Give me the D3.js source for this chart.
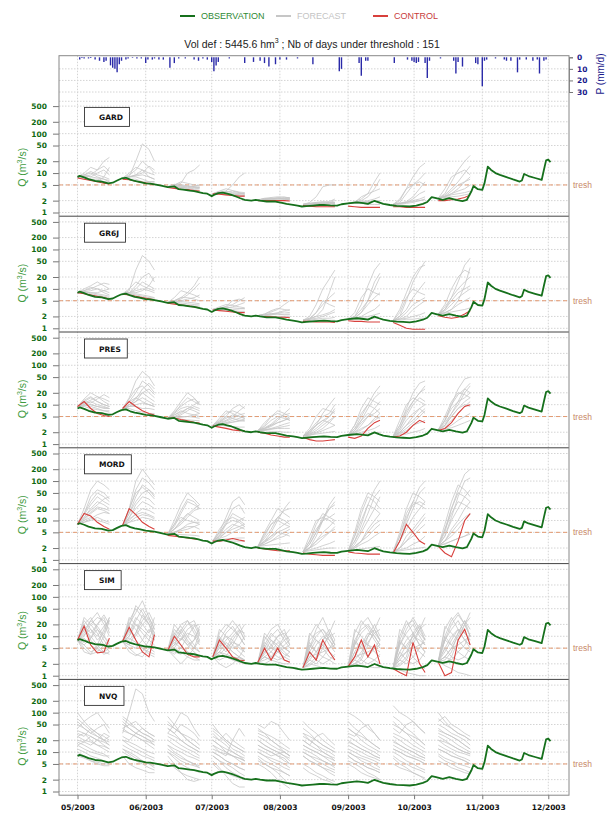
<!DOCTYPE html>
<html>
<head>
<meta charset="utf-8">
<script src="https://cdnjs.cloudflare.com/ajax/libs/d3/7.8.5/d3.min.js"></script>
<style>
  body { margin: 0; background: #fff; }
  svg { display: block; font-family: "Liberation Sans", Arial, sans-serif; }
</style>
</head>
<body>
<svg id="chart"></svg>
<script>
// ---- data ----
const stations = ['GARD', 'GR6J', 'PRES', 'MORD', 'SIM', 'NVQ'];
const qTicks = [1, 2, 5, 10, 20, 50, 100, 200, 500];
const pTicks = [0, 10, 20, 30];
const monthTicks = ['2003-05-01', '2003-06-01', '2003-07-01', '2003-08-01', '2003-09-01', '2003-10-01', '2003-11-01', '2003-12-01'];
const threshold = 5;

// observed discharge (days after 1 May 2003, m3/s)
const obsDays = [0,1,3,5,8,11,14,16,18,20,22,24,26,28,31,33,35,38,41,44,46,48,51,53,55,57,59,61,62,64,66,68,70,72,74,76,79,81,83,86,88,90,93,95,98,100,102,104,107,110,112,115,118,120,123,127,130,132,135,137,139,142,145,148,151,154,157,159,161,163,166,169,172,175,177,179,180,182,184,185,186.5,188,190,192,195,198,201,202,203,205,208,211,212,213,214,215];
const obsQ = [8.0,8.5,7.8,7.0,6.3,6.1,5.5,5.7,6.5,7.3,7.6,6.8,6.3,6.0,5.5,5.4,5.2,4.8,4.4,4.6,3.9,3.8,3.6,3.5,3.3,3.1,3.0,2.6,2.8,3.1,3.2,3.0,2.8,2.55,2.3,2.1,2.0,2.1,2.0,1.9,1.9,1.9,1.75,1.65,1.57,1.5,1.42,1.45,1.5,1.55,1.57,1.52,1.5,1.62,1.7,1.8,1.72,1.66,1.98,1.8,1.65,1.55,1.48,1.45,1.42,1.5,1.65,1.85,2.45,2.3,2.1,2.3,2.1,1.95,2.1,3.4,4.7,3.9,3.75,5.5,14.5,12,10,9,7.9,6.9,6.1,6.5,9.5,8.4,7.5,6.7,12,21,22,19];

// daily rainfall (mm/d)
const rainDays = [1,2,3,5,6,8,10,12,13,15,16,17,18,19,20,22,23,25,27,29,31,32,34,35,37,39,42,44,46,49,53,55,57,59,61,62,63,64,69,76,80,83,85,87,90,92,95,100,107,119,120,128,129,131,132,144,150,152,153,154,155,158,159,160,165,171,172,173,175,181,182,184,185,186,190,194,195,197,200,201,204,207,209,210,212,213];
const rainMm   = [2,0.5,1,1,0.5,2,3,4,3,7,9,10,13,6,3,2,1,0.5,1,1,5,2,2,1,2,2,9,5,1,1,2,3,1,2,4,12,7,4,1,5,4,3,5,8,6,2,2,1,6,12,10,5,16,3,3,5,2,3,4,5,4,5,18,3,1,3,14,4,8,5,6,25,3,2,1,2,3,3,13,2,2,3,2,14,3,2];

// forecast issue days and lead days of the stored points
const issueDays = [0, 20.5, 41, 61.5, 82, 102.5, 123, 143.5, 164];
const leadDays = [0, 3, 6, 9, 12, 14.5];

// ensemble members per issue (members separated by "|")
const fcGARD = [
  '8 9 8 10 12 9|8 8 7 7 6 6|8 10 14 12 20 25|8 9 11 9 8 14|8 8 9 12 15 11|8 7 7 6 8 7|8 9 10 8 7 6|8 8.5 8 7.5 7 6.5',
  '7.5 8 9 12 10 9|7.5 8 20 55 40 20|7.5 8 8 7 6 6|7.5 9 12 20 14 10|7.5 8 9 10 15 12|7.5 7 7 6 6 6|7.5 10 14 12 8 7|7.5 8 8.5 9 8 7',
  '4.5 4.6 4.4 4.2 4.0 4.1|4.5 5 5.5 10 12 16|4.5 4.8 5 4.8 4.5 4.4|4.5 4.5 4.3 4.2 4.6 5|4.5 5 6 5.5 5 4.7|4.5 4.4 4.2 4 3.8 3.7|4.5 5.2 4.8 4.6 4.3 4.2|4.5 4.7 4.6 4.5 4.4 4.3',
  '3 3.2 3 2.9 2.8 2.7|3 3.4 3.5 5 8 10|3 3.1 3.3 3.5 3.2 3|3 3 2.9 2.8 2.9 3.1|3 3.5 4 3.6 3.3 3.2|3 2.9 2.8 2.7 2.6 2.6|3 3.2 3.4 3.2 3.1 2.9|3 3.1 3.1 3 3 2.9',
  '2.1 2.2 2.2 2.3 2.2 2.2|2.1 2.3 2.4 2.5 2.4 2.4|2.1 2.1 2.1 2.2 2.3 2.3|2.1 2.2 2.3 2.2 2.2 2.1|2.1 2.2 2.2 2.4 2.5 2.3|2.1 2.1 2.0 2.0 2.1 2.1|2.1 2.2 2.3 2.3 2.2 2.2|2.1 2.15 2.2 2.2 2.25 2.3',
  '1.6 1.6 1.7 1.7 1.8 1.8|1.6 1.8 2.5 4.5 5 5|1.6 1.7 1.7 1.8 1.9 2.2|1.6 1.6 1.6 1.7 1.7 1.7|1.6 1.7 1.8 1.7 1.8 2|1.6 1.6 1.5 1.5 1.5 1.6|1.6 1.7 1.8 1.9 1.8 1.8|1.6 1.65 1.7 1.75 1.7 1.7',
  '1.7 1.8 1.8 1.9 1.9 2|1.7 1.8 2.5 3 6 10|1.7 1.8 2 2.5 4 7|1.7 1.7 1.8 1.8 1.9 1.9|1.7 1.9 2.2 3 3.5 4|1.7 1.7 1.7 1.6 1.6 1.6|1.7 1.8 1.9 2 2.2 2.5|1.7 1.75 1.8 1.85 1.9 1.9',
  '1.6 1.7 1.8 2 2.2 2.5|1.6 2 4 8 14 18|1.6 1.8 3 5 7 10|1.6 1.7 1.9 2.5 4 6|1.6 1.7 1.8 1.9 2 2.1|1.6 2.2 4 5 6 5|1.6 1.6 1.7 1.8 2 2.2|1.6 1.7 1.8 2.2 3 3.5',
  '2.3 2.5 3 4 6 8|2.3 3 6 12 20 28|2.3 2.8 4 6 10 15|2.3 2.5 2.8 3 3.2 3.5|2.3 4 8 10 12 9|2.3 2.6 3.5 5 6 7|2.3 2.4 2.5 2.6 2.8 3|2.3 2.6 3 3.5 4 5'
];
const ctrlGARD = ['7.5 7 6.5 6 5.5 5.3', '7 6.8 6.2 5.8 5.4 5.2', '4.3 4.1 3.9 3.8 3.6 3.5', '3 2.9 2.8 2.7 2.6 2.6', '2.0 2.0 2.0 2.0 2.0 1.95', '1.5 1.45 1.4 1.4 1.4 1.4', '1.45 1.4 1.35 1.35 1.35 1.35', '1.4 1.4 1.35 1.35 1.35 1.35', '2.0 2.0 2.1 2.2 2.4 2.8'];

const fcGR6J = [
  '8 9 10 12 14 13|8 8 7.5 7 6.5 6|8 8.5 9 10 9 8|8 9 11 10 8 7|8 8 8 8 9 10|8 7.5 7 6.5 6 5.8|8 10 12 15 12 10|8 8.5 8 7.5 7 6.5',
  '7.5 8 10 15 12 10|7.5 9 30 70 50 30|7.5 8 9 10 9 8|7.5 8 12 20 25 15|7.5 7.5 7 6.5 6 5.8|7.5 10 15 12 10 9|7.5 8 8 9 12 20|7.5 7.5 7.5 7 6.5 6',
  '4.5 5 6 8 12 20|4.5 4.5 4.4 4.2 4 3.9|4.5 5 6 6 5.5 5|4.5 6 9 8 7 6|4.5 4.7 5 5.5 6 7|4.5 4.3 4.1 3.9 3.7 3.6|4.5 4.6 4.8 4.6 4.4 4.2|4.5 5 5.5 7 10 14',
  '3 3.2 3.5 4 5 6|3 3 2.9 2.8 2.7 2.7|3 3.3 3.4 3.3 3.2 3.1|3 3.1 3.2 3.5 4 4.5|3 2.9 2.8 2.7 2.6 2.6|3 3.5 4 3.8 3.5 3.3|3 3.1 3 3 3.1 3.2|3 3.2 3.6 5 5.5 5',
  '2.1 2.2 2.3 2.5 2.8 3|2.1 2.1 2 2 2 2|2.1 2.3 2.6 3 4 5|2.1 2.2 2.2 2.3 2.3 2.3|2.1 2.1 2.2 2.4 2.6 2.5|2.1 2 2 1.9 1.9 1.9|2.1 2.2 2.4 2.3 2.2 2.2|2.1 2.3 2.8 3.2 3 2.8',
  '1.6 1.7 2 3 8 20|1.6 1.6 1.6 1.6 1.6 1.6|1.6 1.8 2.5 4 6 8|1.6 1.7 1.8 2 2.3 2.6|1.6 2 4 10 18 30|1.6 1.6 1.7 1.8 1.8 1.9|1.6 1.8 2 2.2 2.5 3|1.6 1.7 2.5 5 4 3.5',
  '1.7 1.8 2.5 5 10 20|1.7 1.7 1.8 1.8 1.8 1.9|1.7 2 4 12 30 45|1.7 1.9 2.5 4 6 8|1.7 1.8 2 2.5 3 4|1.7 2.5 6 10 8 7|1.7 1.8 1.9 2 2.2 2.4|1.7 2 3 5 15 25',
  '1.6 2 5 15 30 50|1.6 1.7 1.8 2 2.2 2.5|1.6 2 3 6 10 15|1.6 1.8 2.5 4 5 6|1.6 3 8 20 35 40|1.6 1.7 2 3 4 5|1.6 1.6 1.7 1.7 1.8 1.8|1.6 2.5 6 10 8 7',
  '2.3 3 6 15 40 60|2.3 2.5 3 4 5 6|2.3 4 10 20 30 25|2.3 2.8 4 6 8 10|2.3 2.4 2.6 2.8 3 3.3|2.3 3.5 6 10 15 20|2.3 2.5 3 5 12 35|2.3 3 5 8 10 12'
];
const ctrlGR6J = ['8 7.5 7 6.5 6 5.5', '7.3 7 6.5 6 5.6 5.3', '4.3 4.1 3.9 3.7 3.5 3.3', '2.9 2.8 2.7 2.6 2.5 2.5', '2 2 1.95 1.9 1.9 1.85', '1.5 1.5 1.45 1.45 1.45 1.4', '1.55 1.5 1.5 1.45 1.45 1.45', '1.4 1.2 1 0.95 0.95 0.95', '2.1 1.9 1.8 1.9 2.3 2.8'];

const fcPRES = [
  '9 12 15 12 10 9|9 10 9 8 7 6.5|9 14 20 16 12 10|9 11 10 9 8 8|9 9 8 7.5 7 7|9 12 11 14 18 15|9 10 12 10 9 8|9 8 7 6.5 6 6|9 11 13 16 14 12|9 9.5 10 9 8.5 8|9 13 16 12 10 9',
  '8 12 20 40 30 20|8 15 40 70 50 30|8 10 12 15 12 10|8 9 9 8 8 7.5|8 12 15 20 25 18|8 8 7 6.5 6 6|8 10 15 12 10 9|8 9 12 20 15 12|8 10 14 25 35 25|8 9 10 11 10 9|8 14 25 30 20 15',
  '4.5 6 10 15 12 10|4.5 5 6 8 10 12|4.5 5 5 5 4.8 4.5|4.5 7 12 20 15 10|4.5 4.5 4.3 4.1 4 3.9|4.5 5.5 7 6 5.5 5|4.5 6 8 9 8 7|4.5 4.8 5.5 7 9 8|4.5 5.5 6.5 8 7 6|4.5 4.6 4.8 5 5.5 6|4.5 6.5 9 12 14 11',
  '3 3.5 5 8 10 8|3 3.2 3.5 4 4.5 5|3 4 6 7 6 5|3 3 2.9 2.8 2.7 2.7|3 3.5 4 5 7 9|3 3.8 5 4.5 4 3.8|3 3.1 3.3 3.6 4 4.3|3 4.5 7 6 5 4.5|3 3.3 3.8 4.5 5.5 6|3 3.6 4.5 5.5 5 4.5|3 3.2 3.4 3.6 3.8 4',
  '2.2 2.5 3 4 6 8|2.2 2.3 2.4 2.6 2.8 3|2.2 2.8 4 5 4.5 4|2.2 2.2 2.1 2.1 2 2|2.2 2.5 3 3.5 4 5|2.2 3 5 6 5 4|2.2 2.3 2.4 2.5 2.5 2.5|2.2 2.4 2.8 3.5 4 4.5|2.2 2.6 3.2 4.5 5.5 6|2.2 2.3 2.5 2.8 3.2 3.5|2.2 3.5 5 7 6 5',
  '1.6 2 3 6 10 15|1.6 1.8 2.2 3 4 5|1.6 2.5 5 8 7 6|1.6 1.7 1.8 1.9 2 2.1|1.6 2 3 4 5 7|1.6 1.6 1.5 1.5 1.5 1.5|1.6 2.2 3 4 3.5 3|1.6 1.8 2 2.5 3.5 5|1.6 1.9 2.5 3.5 5 8|1.6 2.2 3.5 5 6 10|1.6 1.7 1.9 2.2 2.6 3',
  '1.7 2.5 5 10 20 30|1.7 2 3 5 6 8|1.7 3 8 15 12 10|1.7 1.8 2 2.2 2.5 3|1.7 2.2 3.5 5 8 12|1.7 1.7 1.8 1.8 1.9 2|1.7 2.5 4 6 5 4.5|1.7 2 2.5 3 4 5|1.7 2.2 4 8 15 20|1.7 1.9 2.3 3 4.5 6|1.7 3 6 10 8 6',
  '1.6 3 8 20 35 40|1.6 2 3 5 8 10|1.6 2.5 5 10 15 12|1.6 1.8 2.2 3 3.5 4|1.6 4 10 15 12 10|1.6 1.7 1.8 2 2.2 2.5|1.6 2 3 4 6 8|1.6 2.2 4 6 8 6|1.6 2.5 6 12 20 25|1.6 1.9 2.5 3.5 5 7|1.6 3 7 12 20 30',
  '2.3 4 10 25 45 50|2.3 3 5 8 12 15|2.3 5 12 20 18 15|2.3 2.5 3 4 5 6|2.3 3.5 6 10 20 30|2.3 2.4 2.6 3 3.5 4|2.3 3 5 8 10 9|2.3 4 8 12 15 20|2.3 3 6 12 25 35|2.3 2.8 4 6 9 12|2.3 4 10 18 25 20'
];
const ctrlPRES = ['9 12 8 6 5.3 5', '8 12 9 7 6 5.5', '4.5 4.6 4.2 3.9 3.6 3.4', '2.9 2.7 2.5 2.3 2.2 2.2', '2 1.9 1.7 1.6 1.5 1.5', '1.5 1.3 1.2 1.2 1.25 1.3', '1.5 1.4 1.6 2.5 3.5 4', '1.5 1.6 2 3 4 3.5', '2.2 2.5 3.5 6 9 10'];

const fcMORD = [
  '8 15 30 50 40 30|8 20 60 100 80 60|8 10 15 20 18 15|8 12 20 30 25 20|8 9 10 12 10 9|8 15 40 60 50 35|8 10 12 10 9 8|8 12 18 25 35 40|8 11 16 22 20 18|8 14 25 40 30 25|8 9 11 14 16 15',
  '7.5 15 40 80 60 40|7.5 20 100 200 120 80|7.5 10 15 20 18 15|7.5 12 25 40 35 25|7.5 9 10 12 11 10|7.5 15 30 50 60 45|7.5 11 14 16 14 12|7.5 20 50 70 50 35|7.5 12 20 30 25 20|7.5 18 60 120 90 60|7.5 9 12 14 13 11',
  '4.5 7 15 30 25 20|4.5 10 25 50 35 25|4.5 5 6 7 7 6|4.5 6 10 15 12 10|4.5 5 5.5 6 7 8|4.5 8 12 10 9 8|4.5 4.5 4.4 4.3 4.2 4|4.5 6 8 12 18 20|4.5 6 9 14 20 25|4.5 8 18 35 30 20|4.5 5 6 8 9 9',
  '3 4 8 15 12 10|3 5 12 30 40 25|3 3.5 4 5 6 7|3 4 6 8 7 6|3 3.2 3.4 3.5 3.6 3.6|3 6 10 12 10 8|3 3.5 5 7 10 12|3 3 3 3 3 3|3 4.5 9 20 25 15|3 3.8 5 6 7 8|3 5 8 10 9 7',
  '2.2 3 5 10 20 30|2.2 2.5 3 4 5 6|2.2 4 8 12 10 8|2.2 2.3 2.4 2.5 2.6 2.7|2.2 3 4 6 8 10|2.2 2.8 4 5 4.5 4|2.2 5 10 20 15 12|2.2 2.5 3 3.5 4 5|2.2 3.5 6 12 18 20|2.2 2.8 3.5 5 6 7|2.2 4.5 8 10 8 7',
  '1.6 2 4 10 25 40|1.6 2 3 5 7 10|1.6 3 8 15 12 10|1.6 1.8 2 2.3 2.6 3|1.6 2.5 5 10 20 30|1.6 1.7 1.8 1.9 2 2|1.6 4 10 12 10 8|1.6 2 3 4 5 6|1.6 2.5 5 12 20 25|1.6 3 6 10 12 15|1.6 2 2.5 3.5 5 7',
  '1.7 3 8 25 60 100|1.7 2 3 6 10 15|1.7 4 15 40 30 20|1.7 2 2.5 3 4 5|1.7 2.5 5 10 20 40|1.7 1.8 1.9 2 2.1 2.2|1.7 5 20 50 40 30|1.7 2.2 3 5 8 10|1.7 3 6 15 40 60|1.7 4 10 25 20 15|1.7 2.2 3 4 6 8',
  '1.6 3 10 30 70 100|1.6 2 3 5 8 12|1.6 5 20 50 40 30|1.6 1.8 2 2.5 3 4|1.6 3 6 12 20 30|1.6 1.7 1.8 1.9 2 2.1|1.6 4 15 30 25 20|1.6 2 4 6 10 15|1.6 3 8 20 50 70|1.6 4 12 25 30 25|1.6 2 3 4 6 8',
  '2.3 5 20 60 150 200|2.3 3 5 8 12 15|2.3 8 30 80 60 40|2.3 2.5 3 3.5 4 5|2.3 4 10 20 40 60|2.3 2.6 3 3.5 4 4.5|2.3 6 15 30 25 20|2.3 3 6 10 20 30|2.3 4 12 40 100 120|2.3 6 20 50 40 30|2.3 3 4 6 10 15'
];
const ctrlMORD = ['8 15 13 9 7 6', '7.5 20 14 9 7 6', '4.2 4 3.8 3.6 3.4 3.3', '3 3 3.2 3.5 3.2 3', '2 1.9 1.8 1.7 1.7 1.7', '1.5 1.4 1.35 1.3 1.3 1.3', '1.6 1.5 1.45 1.4 1.4 1.4', '1.5 3 8 5 3 2.5', '2.2 1.5 1.2 3 10 15'];

const fcSIM = [
  '8 20 30 15 8 5|8 12 25 40 20 10|8 6 4 5 10 25|8 15 10 6 4 3.5|8 10 20 30 25 15|8 5 3.5 4 6 8|8 18 12 20 35 20|8 7 9 15 10 6|8 25 15 8 12 30|8 9 6 4.5 4 5|8 30 20 12 6 4|8 4 3.5 6 15 30|8 14 25 18 10 7|8 6 9 20 30 12|8 20 8 5 3.5 4|8 11 15 10 18 25',
  '7.5 20 40 80 30 15|7.5 10 20 15 10 8|7.5 5 3.5 3 5 12|7.5 25 50 30 20 10|7.5 15 8 5 4 3.5|7.5 8 12 25 40 20|7.5 12 30 20 12 30|7.5 6 5 8 15 10|7.5 30 20 12 8 6|7.5 9 7 5 3.5 3|7.5 18 60 40 20 12|7.5 4 3.2 4 8 20|7.5 14 10 20 30 15|7.5 6 12 35 20 8|7.5 22 15 8 5 4|7.5 10 25 50 25 12',
  '4.5 10 20 25 15 8|4.5 5 4 3 2.5 2.5|4.5 8 12 20 25 12|4.5 3 2 3 5 8|4.5 15 10 6 4 3|4.5 6 8 12 10 6|4.5 4 3.5 5 8 15|4.5 12 18 10 6 4|4.5 7 5 4 3.5 3|4.5 9 15 8 5 12|4.5 20 12 7 5 4|4.5 3.5 5 10 18 20|4.5 6 14 25 12 7|4.5 8 6 4 3 2.5|4.5 12 8 15 20 10|4.5 5 9 6 8 18',
  '3 8 15 25 15 8|3 4 3 2.5 2.2 2|3 6 10 8 5 4|3 2 1.6 2 3 5|3 10 6 4 3 2.5|3 5 8 12 20 10|3 3.5 5 7 6 4|3 12 20 15 10 6|3 4 3.5 3 2.8 2.5|3 7 5 10 15 8|3 15 10 6 4 3|3 2.5 3 6 12 20|3 5 12 18 10 6|3 9 6 4 3 2.5|3 6 4 8 14 12|3 4 7 5 6 10',
  '2.2 5 10 15 8 5|2.2 3 2.5 2.2 2 2|2.2 4 8 6 4 3|2.2 8 15 20 10 6|2.2 2.5 3 5 8 10|2.2 6 4 3 2.5 2.2|2.2 3.5 6 10 12 8|2.2 10 6 4 3 2.5|2.2 4 5 4 5 6|2.2 3 4 7 5 4|2.2 12 8 5 3.5 3|2.2 2 2.5 5 10 15|2.2 6 12 8 5 4|2.2 3 2.5 4 6 8|2.2 7 5 10 15 6|2.2 5 3 2.5 3 4',
  '1.6 5 15 30 12 6|1.6 2 1.8 1.6 1.5 1.5|1.6 4 8 6 4 3|1.6 8 12 15 10 6|1.6 2.5 4 6 10 12|1.6 6 4 3 2.5 2|1.6 3 6 10 8 5|1.6 10 20 12 6 4|1.6 3 3.5 4 5 6|1.6 2 3 8 15 8|1.6 12 8 5 3 2.5|1.6 1.8 2.5 5 12 25|1.6 5 10 15 8 5|1.6 2.5 2 3 5 8|1.6 7 4 8 12 6|1.6 4 2.5 2 2.5 3.5',
  '1.7 6 20 30 15 8|1.7 2 1.8 1.7 1.6 1.6|1.7 4 8 6 5 4|1.7 8 15 20 12 8|1.7 2.5 4 7 12 15|1.7 7 5 3 2.5 2|1.7 3 6 12 10 6|1.7 12 25 15 8 5|1.7 3 3.5 4 5 6|1.7 2 3 10 20 10|1.7 15 10 6 4 3|1.7 2 2.5 6 15 30|1.7 6 12 18 10 6|1.7 2.5 2 3 5 8|1.7 8 5 10 15 8|1.7 4 2.5 2 2.5 3.5',
  '1.6 6 15 30 15 8|1.6 1.4 1.2 1.1 1 1|1.6 4 8 12 6 4|1.6 8 20 25 12 8|1.6 2.5 4 8 15 20|1.6 7 5 3 2 1.5|1.6 3 6 10 8 6|1.6 10 25 12 6 4|1.6 3 4 5 6 7|1.6 2 3 12 20 10|1.6 15 10 6 4 3|1.6 1.8 2.5 6 15 30|1.6 6 12 20 10 6|1.6 2.5 2 3 5 9|1.6 8 5 10 18 8|1.6 4 2.5 2 2.5 4',
  '2.3 8 20 35 20 10|2.3 1.8 1.5 1.2 1.1 1|2.3 5 10 15 8 5|2.3 10 25 40 20 10|2.3 3 5 10 20 30|2.3 8 6 4 3 2.5|2.3 4 8 15 12 8|2.3 15 30 15 8 6|2.3 3 5 6 8 10|2.3 2.5 4 12 25 15|2.3 18 12 8 5 4|2.3 2 3 8 20 40|2.3 8 15 25 12 8|2.3 3 2.5 4 6 12|2.3 10 6 12 25 10|2.3 5 3 2.5 3 5'
];
const ctrlSIM = ['8 18 6 3.8 4 9', '7.5 17 8 4 3 11', '4.3 10 6 3.5 3 3', '3 8 5 3 2.5 2.4', '2.2 5 2.5 5 2.5 2.2', '1.6 4 2.5 8 4 2.5', '1.7 3 8 3 6 2', '1.5 1.2 1 7 2 1.2', '2.2 1 1.2 8 15 6'];

const fcNVQ = [
  '100 60 40 30 25 20|50 40 30 25 20 18|30 25 40 30 20 25|20 18 15 20 30 25|15 12 10 9 8 8|12 10 8 7 6 5|40 60 80 100 60 40|25 30 20 15 12 10|18 15 12 10 9 7|10 8 6 5 4.5 4.5|70 50 35 25 20 15|35 30 25 20 18 15|25 20 18 15 14 12|60 40 30 40 50 30|15 18 25 20 15 12|8 7 6 5.5 5 5',
  '80 60 40 30 25 20|30 100 400 300 100 60|40 30 25 20 15 12|20 18 15 12 10 9|15 12 10 8 7 6|10 8 6 5 4 3.5|60 40 30 25 20 15|25 20 30 40 30 25|12 10 8 6 5 4|8 5 4 3.5 3 3|50 40 30 25 20 18|70 50 40 30 25 20|20 15 12 10 8 7|35 30 25 20 18 15|12 9 7 6 5 4.5|40 50 60 40 30 25',
  '80 50 30 20 15 12|30 50 100 80 40 25|40 30 20 15 12 10|20 15 12 10 8 7|15 10 8 6 5 4.5|10 7 5 4 3.5 3|8 5 3 2 1.8 2|25 20 15 12 10 8|12 9 7 6 5 4|6 4 3 2.5 2.2 2|50 40 30 25 20 15|60 40 30 20 15 12|15 12 10 8 7 6|30 25 20 15 12 10|10 8 6 5 4.5 4|40 30 50 40 30 20',
  '50 30 20 15 12 10|30 20 15 10 8 6|20 15 10 8 7 6|15 10 8 20 40 25|10 8 6 5 4 3.5|8 6 4 3 2.5 2|6 4 2.5 1.6 1.3 1.3|12 10 9 8 7 6|25 20 30 20 15 12|5 3.5 3 2.5 2.2 2|40 30 20 15 12 10|20 15 12 10 8 7|35 25 18 12 10 8|10 8 6 5 4 3.5|15 12 10 8 6 5|8 6 5 4 3 2.5',
  '40 30 20 15 10 8|50 40 60 50 30 20|20 15 12 10 8 6|15 12 10 8 7 5|10 8 6 5 4 3.5|8 6 5 4 3 2.5|6 5 4 3 2 1.5|12 10 8 9 10 8|5 4 3 2 1.5 1.2|25 20 15 12 10 8|30 25 20 15 12 10|20 15 12 10 8 7|35 30 25 20 15 12|10 8 7 6 5 4|15 12 10 8 6 5|7 5 4 3.5 3 2.5',
  '30 20 15 12 10 8|60 40 30 20 15 12|15 12 10 8 7 6|10 8 7 6 5 4|8 6 5 4 3.5 3|5 4 3 2.5 2 1.8|20 15 25 30 20 15|12 10 8 6 5 4.5|4 3 2.5 2 1.8 1.5|25 20 15 10 8 6|40 30 20 15 12 10|20 15 12 10 8 7|15 12 10 8 6 5|10 8 6 5 4 3.5|30 25 20 15 12 10|8 6 5 4 3 2.5',
  '40 30 20 15 12 10|100 80 60 40 30 20|20 15 12 10 8 7|12 10 8 7 6 5|8 6 5 4 3.5 3|6 5 4 3 2.5 2|30 25 40 50 30 20|15 12 10 8 7 6|5 4 3 2.5 2.2 2|10 8 6 5 4 3.5|60 40 30 20 15 12|25 20 15 12 10 8|18 15 12 10 8 7|10 8 7 6 5 4|40 30 25 20 15 12|8 6 5 4 3.5 3',
  '60 40 30 20 15 12|150 100 80 60 40 30|25 20 15 12 10 8|15 12 10 8 7 6|10 8 6 5 4 3.5|7 5 4 3 2.5 2|40 30 50 60 40 30|20 15 12 10 8 7|5 4 3.5 3 2.5 2.2|12 10 8 7 6 5|80 60 40 30 20 15|30 25 20 15 12 10|18 15 12 10 8 7|12 10 8 7 6 5|50 40 30 25 20 15|8 6 5 4 3.5 3',
  '100 60 40 30 25 20|50 40 30 25 20 15|30 25 20 15 12 10|20 15 12 10 9 8|12 10 8 7 6 5|8 6 5 4 3.5 3|60 80 50 40 30 25|25 20 15 12 10 9|6 5 4 3.5 3 2.8|15 12 10 8 7 6|70 50 40 30 25 20|40 30 25 20 15 12|20 18 15 12 10 9|12 10 8 7 6 5|35 30 25 20 15 12|9 7 6 5 4.5 4'
];
const ctrlNVQ = [];

// ---- layout ----
const W = 610, H = 813;
const left = 59, right = 569;
const frameTop = 55.7;
const panelTop0 = 100.4, panelH = 115.8;
const bottom = panelTop0 + panelH * stations.length;

const colObs = '#16701c', colFc = '#c6c6c6', colCtrl = '#d8403c';
const colTick = '#0f6a12', colTitle = '#3f9b3f', colGrid = '#d4d4d4';
const colRain = '#2a2aa8', colRainAxis = '#1a1a8c', colTresh = '#e39a72';

const forecasts = { GARD: fcGARD, GR6J: fcGR6J, PRES: fcPRES, MORD: fcMORD, SIM: fcSIM, NVQ: fcNVQ };
const controls = { GARD: ctrlGARD, GR6J: ctrlGR6J, PRES: ctrlPRES, MORD: ctrlMORD, SIM: ctrlSIM, NVQ: ctrlNVQ };

const t0 = Date.UTC(2003, 4, 1);
const toDate = d => new Date(t0 + d * 864e5);
const parse = s => s.trim().split(/\s+/).map(Number);

const x = d3.scaleUtc()
  .domain([new Date(Date.UTC(2003, 3, 22, 14)), new Date(Date.UTC(2003, 11, 10, 10))])
  .range([left, right]);
const p = d3.scaleLinear().domain([0, 30]).range([57.3, 92]);

const svg = d3.select('#chart').attr('width', W).attr('height', H);

// vertical month grid
svg.append('g').selectAll('line')
  .data(monthTicks.map(s => new Date(s + 'T00:00:00Z')))
  .join('line')
  .attr('x1', d => x(d)).attr('x2', d => x(d))
  .attr('y1', frameTop).attr('y2', bottom)
  .attr('stroke', colGrid).attr('stroke-dasharray', '1.5,1.5');

// rainfall grid
svg.append('g').selectAll('line')
  .data([10, 20, 30, 38])
  .join('line')
  .attr('x1', left).attr('x2', right)
  .attr('y1', d => p(d)).attr('y2', d => p(d))
  .attr('stroke', colGrid).attr('stroke-dasharray', '1.5,1.5');

// rainfall bars
svg.append('g').selectAll('line')
  .data(rainDays.map((d, i) => [d, rainMm[i]]))
  .join('line')
  .attr('x1', d => x(toDate(d[0]))).attr('x2', d => x(toDate(d[0])))
  .attr('y1', p(0)).attr('y2', d => p(d[1]))
  .attr('stroke', colRain).attr('stroke-width', 1.4);

const obsData = obsDays.map((d, i) => [d, obsQ[i]]);

stations.forEach((name, i) => {
  const top = panelTop0 + i * panelH, bot = top + panelH;
  const y = d3.scaleLog().domain([1, 500]).range([bot - 3.7, top + 5.7]);
  const g = svg.append('g');

  const clipId = 'clip' + i;
  svg.append('clipPath').attr('id', clipId)
    .append('rect').attr('x', left).attr('y', top).attr('width', right - left).attr('height', panelH);

  // horizontal grid
  g.append('g').selectAll('line').data(qTicks).join('line')
    .attr('x1', left).attr('x2', right)
    .attr('y1', d => y(d)).attr('y2', d => y(d))
    .attr('stroke', colGrid).attr('stroke-dasharray', '1.5,1.5');

  // threshold
  g.append('line')
    .attr('x1', left).attr('x2', right)
    .attr('y1', y(threshold)).attr('y2', y(threshold))
    .attr('stroke', colTresh).attr('stroke-dasharray', '4,3').attr('stroke-width', 1);
  g.append('text').attr('x', 573).attr('y', y(threshold) + 3)
    .attr('font-size', 8.5).attr('fill', '#c98a6a').text('tresh');

  const line = d3.line().x(d => x(toDate(d[0]))).y(d => y(d[1]));
  const marks = g.append('g').attr('clip-path', `url(#${clipId})`);

  // ensemble members
  forecasts[name].forEach((block, b) => {
    block.split('|').forEach(m => {
      const vals = parse(m);
      marks.append('path')
        .datum(vals.map((v, k) => [issueDays[b] + leadDays[k], v]))
        .attr('d', line).attr('fill', 'none')
        .attr('stroke', colFc).attr('stroke-width', 0.8);
    });
  });

  // control run
  controls[name].forEach((c, b) => {
    marks.append('path')
      .datum(parse(c).map((v, k) => [issueDays[b] + leadDays[k], v]))
      .attr('d', line).attr('fill', 'none')
      .attr('stroke', colCtrl).attr('stroke-width', 1.1);
  });

  // observation
  marks.append('path').datum(obsData)
    .attr('d', line).attr('fill', 'none')
    .attr('stroke', colObs).attr('stroke-width', 1.8).attr('stroke-linejoin', 'round');

  // left axis
  const yAxis = d3.axisLeft(y).tickValues(qTicks).tickFormat(d3.format('d')).tickSize(6).tickPadding(6);
  const ya = g.append('g').attr('transform', `translate(${left},0)`).call(yAxis);
  ya.select('.domain').remove();
  ya.selectAll('line').attr('stroke', '#777');
  ya.selectAll('text').attr('fill', colTick).attr('font-family', '"DejaVu Sans", sans-serif')
    .attr('font-weight', 'bold').attr('font-size', 7.5);

  // y title
  const yt = g.append('text')
    .attr('transform', `translate(26,${y(14)}) rotate(-90)`)
    .attr('text-anchor', 'middle').attr('font-size', 10.5).attr('fill', colTitle);
  yt.append('tspan').text('Q (m');
  yt.append('tspan').attr('font-size', 7).attr('dy', -4).text('3');
  yt.append('tspan').attr('dy', 4).text('/s)');

  // station label box
  const lbl = g.append('text').attr('x', 99).attr('y', top + 19.5)
    .attr('font-family', '"DejaVu Sans", sans-serif').attr('font-weight', 'bold')
    .attr('font-size', 7.5).attr('fill', '#111').text(name);
  const tw = lbl.node().getComputedTextLength();
  g.insert('rect', 'text')
    .attr('x', 84.5).attr('y', top + 7).attr('width', tw + 21).attr('height', 19)
    .attr('fill', '#fff').attr('stroke', '#333').attr('stroke-width', 0.9);
  lbl.raise();

  // panel separator
  if (i > 0) {
    g.append('line').attr('x1', left).attr('x2', right).attr('y1', top).attr('y2', top)
      .attr('stroke', '#444').attr('stroke-width', 1);
  }
});

// outer frame
svg.append('rect').attr('x', left).attr('y', frameTop)
  .attr('width', right - left).attr('height', bottom - frameTop)
  .attr('fill', 'none').attr('stroke', '#888').attr('stroke-width', 1);

// x axis
const xAxis = d3.axisBottom(x)
  .tickValues(monthTicks.map(s => new Date(s + 'T00:00:00Z')))
  .tickFormat(d3.utcFormat('%m/%Y')).tickSize(4).tickPadding(5);
const xa = svg.append('g').attr('transform', `translate(0,${bottom})`).call(xAxis);
xa.select('.domain').remove();
xa.selectAll('line').attr('stroke', '#777');
xa.selectAll('text').attr('fill', '#111').attr('font-family', '"DejaVu Sans", sans-serif')
  .attr('font-weight', 'bold').attr('font-size', 7.5);

// rainfall axis
const pAxis = d3.axisRight(p).tickValues(pTicks).tickSize(4).tickPadding(4);
const pa = svg.append('g').attr('transform', `translate(${right},0)`).call(pAxis);
pa.select('.domain').attr('stroke', '#888');
pa.selectAll('line').attr('stroke', '#777');
pa.selectAll('text').attr('fill', colRainAxis).attr('font-family', '"DejaVu Sans", sans-serif')
  .attr('font-weight', 'bold').attr('font-size', 7.5);
svg.append('text').attr('transform', `translate(604,74) rotate(-90)`)
  .attr('text-anchor', 'middle').attr('font-size', 10).attr('fill', colRainAxis).text('P (mm/d)');

// title
const title = svg.append('text').attr('x', 312).attr('y', 48)
  .attr('text-anchor', 'middle').attr('font-size', 10.5).attr('fill', '#222');
title.append('tspan').text('Vol def : 5445.6 hm');
title.append('tspan').attr('font-size', 7).attr('dy', -5).text('3');
title.append('tspan').attr('dy', 5).text(' ; Nb of days under threshold : 151');

// legend
const legendItems = [
  { label: 'OBSERVATION', color: colObs, text: '#2f8a35', x: 180 },
  { label: 'FORECAST', color: colFc, text: '#c4c4c4', x: 276 },
  { label: 'CONTROL', color: colCtrl, text: '#c83c3c', x: 373 }
];
const lg = svg.append('g').selectAll('g').data(legendItems).join('g')
  .attr('transform', d => `translate(${d.x},16)`);
lg.append('line').attr('x1', 0).attr('x2', 15).attr('stroke', d => d.color).attr('stroke-width', 2);
lg.append('text').attr('x', 21).attr('y', 3.2).attr('font-size', 9)
  .attr('fill', d => d.text).text(d => d.label);
</script>
</body>
</html>
